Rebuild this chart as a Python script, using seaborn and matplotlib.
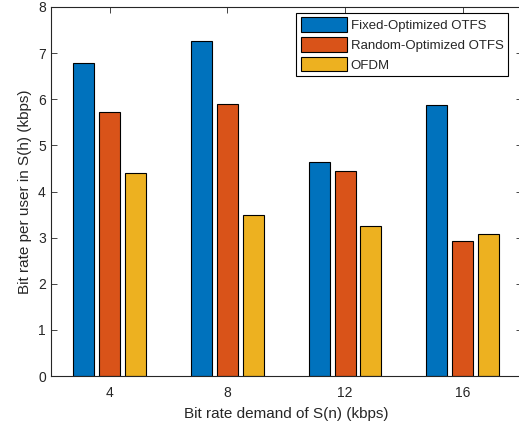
import pandas as pd
import matplotlib.pyplot as plt
import seaborn as sns

# Dados
demanda = ['4', '8', '12', '16']
fixed_otfs = [6.78, 7.27, 4.65, 5.88]
random_otfs = [5.72, 5.89, 4.45, 2.93]
ofdm = [4.40, 3.50, 3.26, 3.08]
esquemas = ['Fixed-Optimized OTFS', 'Random-Optimized OTFS', 'OFDM']
cores = ['#0072BD', '#D95319', '#EDB120']

df = pd.DataFrame({
    'Demanda': demanda * 3,
    'Taxa': fixed_otfs + random_otfs + ofdm,
    'Esquema': [e for e in esquemas for _ in demanda],
})

sns.set_style('white')
plt.rcParams['font.family'] = ['Liberation Sans', 'DejaVu Sans']

fig = plt.figure(figsize=(5.19, 4.28), dpi=100)
ax = fig.add_axes([50.7 / 519, 52 / 428, 471 / 519, 369 / 428])

sns.barplot(data=df, x='Demanda', y='Taxa', hue='Esquema', order=demanda,
            hue_order=esquemas, palette=cores, width=0.66, gap=0.19,
            edgecolor='black', linewidth=0.8, saturation=1, ax=ax)

ax.set_xlim(-0.5, 3.5)
ax.set_ylim(0, 8)
ax.set_yticks(range(0, 9))
ax.set_xlabel('Bit rate demand of S(n) (kbps)', fontsize=11, color='#262626', labelpad=5)
ax.set_ylabel('Bit rate per user in S(h) (kbps)', fontsize=11, color='#262626')
ax.tick_params(direction='in', length=4, width=0.6, colors='#262626',
               labelsize=10, top=True, right=True, bottom=True, left=True)
ax.tick_params(axis='x', pad=7)
for s in ax.spines.values():
    s.set_color('#262626')
    s.set_linewidth(0.8)

ax.legend(loc='upper right', bbox_to_anchor=(508 / 519, 1 - 12.7 / 428),
          bbox_transform=fig.transFigure, fontsize=9.5, frameon=True,
          fancybox=False, edgecolor='black', framealpha=1,
          handlelength=3.5, handleheight=1.3, labelspacing=0.4,
          handletextpad=0.25, borderpad=0.35, borderaxespad=0)
ax.get_legend().get_frame().set_linewidth(0.8)

fig.savefig('out.png', dpi=100)
